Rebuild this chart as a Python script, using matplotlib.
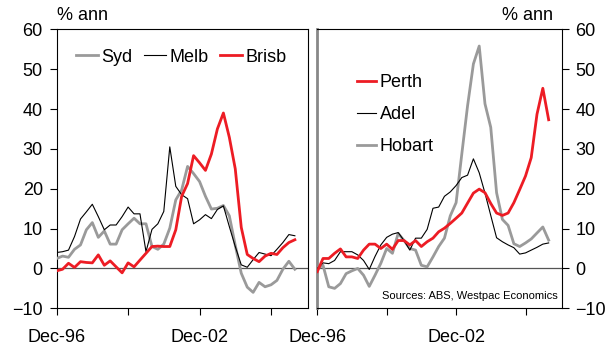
import matplotlib
matplotlib.use("Agg")
import matplotlib.pyplot as plt
import pandas as pd

plt.rcParams['font.family'] = ['Liberation Sans', 'DejaVu Sans']

# Quarterly dwelling price growth, % annualised, Dec-96 to Dec-06
dates = pd.date_range('1996-12-31', periods=41, freq='QE')

syd = [2.5, 3.1, 2.8, 4.8, 5.9, 9.7, 11.5, 7.8, 9.4, 6.1, 6.1, 9.7, 11.2, 12.6, 11.2, 11.2,
       5.5, 4.8, 6.1, 10.1, 17.2, 19.7, 25.6, 23.8, 21.8, 18.1, 14.9, 15.1, 15.8, 13.2,
       5.8, -1.2, -4.7, -6.0, -3.5, -4.6, -4.1, -3.0, -0.2, 1.8, -0.2]
melb = [4.0, 4.2, 4.6, 8.0, 12.4, 14.2, 16.1, 13.0, 9.7, 10.9, 10.9, 13.0, 15.4, 13.7, 13.7, 4.2,
        9.8, 11.2, 14.3, 30.5, 20.6, 18.5, 17.5, 11.2, 12.2, 13.5, 12.5, 14.8, 15.7, 10.5,
        5.5, 0.9, 0.3, 2.2, 4.0, 3.6, 3.2, 4.8, 6.5, 8.5, 8.2]
brisb = [-0.6, -0.2, 1.3, 0.25, 1.7, 1.5, 1.4, 3.4, 0.8, 1.9, 0.4, -1.1, 1.4, 0.4, 2.1, 3.8,
         5.5, 5.6, 5.5, 5.5, 9.7, 18.1, 21.3, 28.3, 26.5, 24.6, 28.7, 35.0, 39.0, 32.9,
         25.0, 10.3, 3.5, 2.5, 1.7, 3.1, 3.8, 3.5, 5.2, 6.5, 7.2]

perth = [-0.8, 2.5, 2.5, 3.8, 4.9, 2.9, 2.9, 2.5, 4.6, 6.1, 6.1, 5.0, 6.1, 4.8, 7.0, 7.0,
         5.9, 7.0, 5.5, 6.7, 7.6, 9.2, 10.1, 11.3, 12.6, 13.9, 16.4, 18.9, 19.9, 19.0,
         16.3, 13.9, 13.3, 13.9, 16.5, 19.8, 23.2, 27.8, 38.7, 45.2, 37.3]
adel = [0.0, 1.4, 1.2, 2.0, 4.2, 4.2, 4.2, 3.4, 2.0, -0.25, 3.0, 5.9, 7.8, 8.6, 9.0, 7.0,
        4.6, 7.6, 7.6, 9.8, 15.1, 15.4, 18.1, 19.2, 20.8, 22.8, 23.4, 27.5, 24.0, 18.9,
        13.3, 7.7, 6.7, 5.9, 5.2, 3.6, 3.9, 4.6, 5.3, 6.1, 6.4]
hobart = [0.0, 0.8, -4.6, -5.0, -3.8, -1.3, -0.6, 0.0, -1.7, -4.5, -1.7, 1.3, 5.0, 3.8, 8.8, 7.0,
          5.0, 4.6, 0.8, 0.4, 2.9, 5.5, 7.6, 13.2, 16.5, 28.7, 40.8, 51.3, 55.8, 41.3,
          35.4, 19.0, 12.3, 10.8, 6.2, 5.5, 6.4, 7.4, 8.9, 10.4, 7.1]

tick_dates = pd.to_datetime(['1996-12-31', '1999-12-31', '2002-12-31', '2005-12-31'])
tick_labels = ['Dec-96', '', 'Dec-02', '']
y_ticks = [-10, 0, 10, 20, 30, 40, 50, 60]

RED = '#ed1c24'
GREY = '#9a9a9a'
FS = 13

W, H = 616, 345
fig = plt.figure(figsize=(W / 100, H / 100), dpi=100)
bottom = (H - 308.3) / H
height = 279 / H
ax1 = fig.add_axes([56.7 / W, bottom, 251.6 / W, height])
ax2 = fig.add_axes([317.3 / W, bottom, 244.4 / W, height])

x_lo = pd.Timestamp('1996-12-31')
x_hi = pd.Timestamp('2007-07-25')

for ax in (ax1, ax2):
    ax.set_xlim(x_lo, x_hi)
    ax.set_ylim(-10, 60)
    ax.axhline(0, color='#555555', lw=0.9, zorder=1)
    ax.set_xticks(tick_dates)
    ax.set_xticklabels(tick_labels)
    ax.set_yticks(y_ticks)
    ax.tick_params(axis='x', direction='out', length=5, width=0.8, pad=10, labelsize=FS)
    ax.tick_params(axis='y', direction='out', length=5, width=0.8, pad=5, labelsize=FS)
    for s in ax.spines.values():
        s.set_linewidth(0.8)
        s.set_color('black')

# Left panel: Sydney, Melbourne, Brisbane
ax1.plot(dates, syd, color=GREY, lw=2.0, label='Syd', zorder=3)
ax1.plot(dates, melb, color='black', lw=0.8, label='Melb', zorder=4)
ax1.plot(dates, brisb, color=RED, lw=2.0, label='Brisb', zorder=5)
ax1.yaxis.tick_left()
ax1.legend(loc='center left', bbox_to_anchor=((76 - 56.7) / 251.6, (308.3 - 57.3) / 279),
           ncol=3, frameon=False, fontsize=FS, handlelength=1.22, handletextpad=0.2,
           columnspacing=0.62, borderpad=0, borderaxespad=0)

# Right panel: Perth, Adelaide, Hobart
ax2.plot(dates, hobart, color=GREY, lw=2.0, label='Hobart', zorder=3)
ax2.plot(dates, adel, color='black', lw=0.8, label='Adel', zorder=4)
ax2.plot(dates, perth, color=RED, lw=2.0, label='Perth', zorder=5)
ax2.yaxis.tick_right()
ax2.spines['left'].set_color('#888888')
ax2.spines['left'].set_linewidth(2.0)
h, l = ax2.get_legend_handles_labels()
order = [2, 1, 0]
ax2.legend([h[i] for i in order], [l[i] for i in order], loc='center left',
           bbox_to_anchor=((356.7 - 317.3) / 244.4, (308.3 - 114.5) / 279),
           frameon=False, fontsize=FS, handlelength=1.07, handletextpad=0.22,
           labelspacing=0.84, borderpad=0, borderaxespad=0)
ax2.text((557.3 - 317.3) / 244.4, (308.3 - 295.7) / 279, 'Sources: ABS, Westpac Economics',
         transform=ax2.transAxes, ha='right', va='center', fontsize=8)

fig.text(57 / W, (H - 16) / H, '% ann', ha='left', va='center', fontsize=FS)
fig.text(553 / W, (H - 16) / H, '% ann', ha='right', va='center', fontsize=FS)

fig.savefig('out.png', dpi=100)
